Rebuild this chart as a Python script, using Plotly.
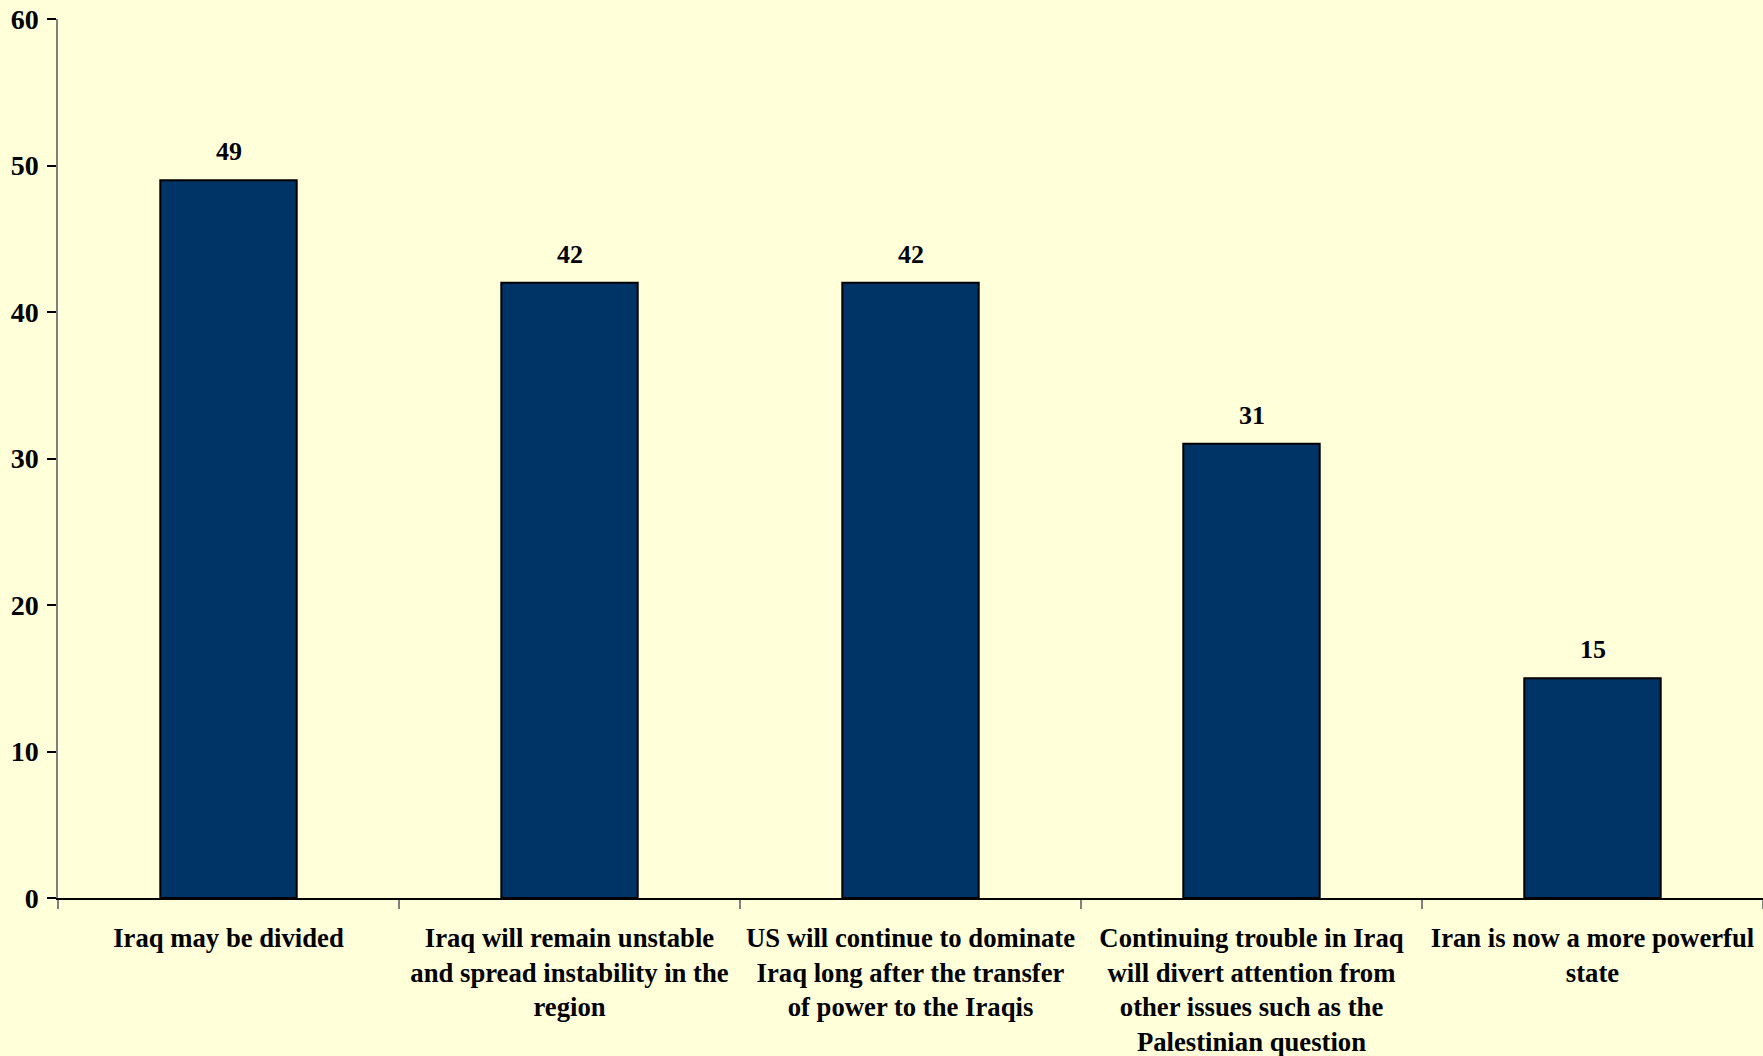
import plotly.graph_objects as go

categories = [
    "Iraq may be divided",
    "Iraq will remain unstable<br>and spread instability in the<br>region",
    "US will continue to dominate<br>Iraq long after the transfer<br>of power to the Iraqis",
    "Continuing trouble in Iraq<br>will divert attention from<br>other issues such as the<br>Palestinian question",
    "Iran is now a more powerful<br>state",
]
values = [49, 42, 42, 31, 15]
y_ticks = [0, 10, 20, 30, 40, 50, 60]

FONT = "Liberation Serif, Times New Roman, serif"
BG = "#FFFFDA"

fig = go.Figure()
fig.add_trace(go.Bar(
    x=categories, y=values,
    marker=dict(color="#003366", line=dict(color="#000000", width=2)),
    hoverinfo="skip",
))

for c, v in zip(categories, values):
    fig.add_annotation(x=c, y=v, text=str(v), showarrow=False,
                       yanchor="bottom", yshift=12,
                       font=dict(family=FONT, size=26, color="#000000", weight="bold"))

fig.update_layout(
    width=1763, height=1056,
    margin=dict(l=58, r=0, t=19, b=158),
    paper_bgcolor=BG, plot_bgcolor=BG,
    bargap=0.6,
    showlegend=False,
    font=dict(family=FONT, size=26, color="#000000", weight="bold"),
)
fig.update_xaxes(
    showline=True, linecolor="#000000", linewidth=1.5,
    ticks="outside", tickson="boundaries", ticklen=9, tickcolor="#808080", tickwidth=1.5,
    showgrid=False, zeroline=False, tickangle=0, automargin=False,
    tickfont=dict(family=FONT, size=26.7, color="#000000", weight="bold"),
    ticklabelstandoff=15,
)
fig.update_yaxes(
    range=[0, 60], tickvals=y_ticks, ticktext=[str(t) for t in y_ticks],
    showline=True, linecolor="#808080", linewidth=1.5,
    ticks="outside", ticklen=9, tickcolor="#000000", tickwidth=1.5,
    showgrid=False, zeroline=False, automargin=False,
    tickfont=dict(family=FONT, size=28, color="#000000", weight="bold"),
    ticklabelstandoff=3,
)

fig.write_html(
    "out.html",
    config={"displayModeBar": False},
    post_script="document.body.style.margin='0';document.body.style.background='" + BG + "';document.documentElement.style.overflow='hidden';",
)
